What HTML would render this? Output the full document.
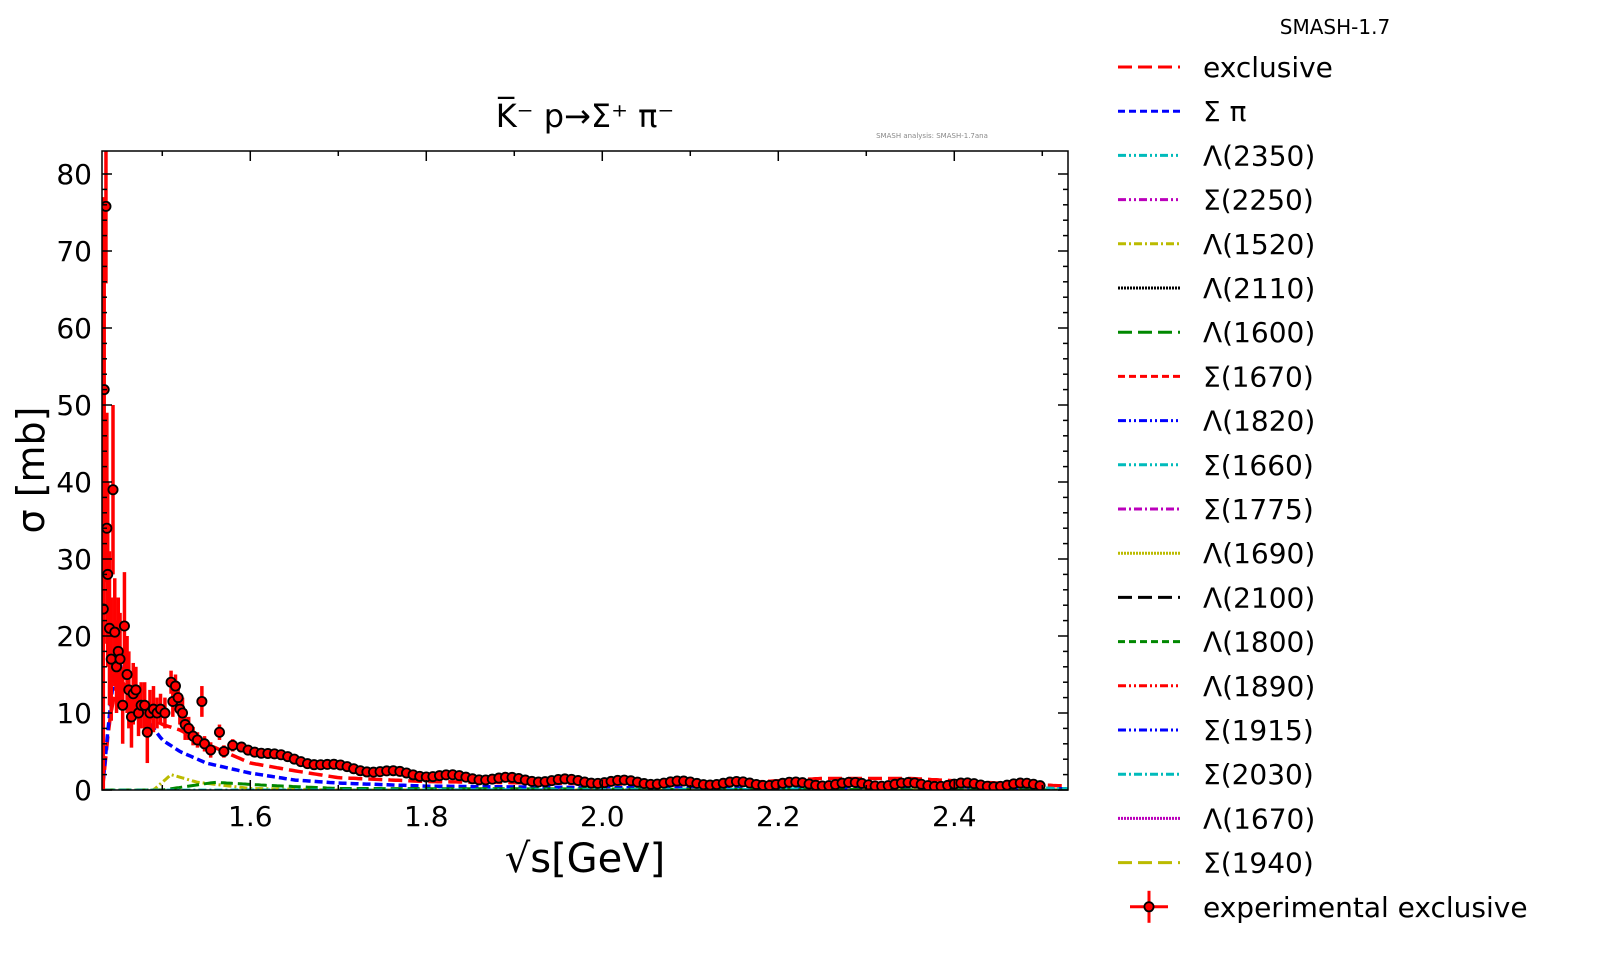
<!DOCTYPE html><html><head><style>body{margin:0;background:#fff}svg{display:block}text{font-family:"DejaVu Sans","Liberation Sans",sans-serif}</style></head><body>
<svg id="s" width="1600" height="961" xmlns="http://www.w3.org/2000/svg">
<defs><clipPath id="c"><rect x="102" y="151" width="966" height="639"/></clipPath></defs>
<rect width="1600" height="961" fill="#fff"/>
<g id="plot" clip-path="url(#c)"></g>
<rect x="102" y="151" width="966" height="639" fill="none" stroke="#000" stroke-width="1.5"/>
<g id="ticks" stroke="#000" stroke-width="1.5"></g>
<g font-size="28" fill="#000" id="lab"></g>
<text x="585" y="127" font-size="32" text-anchor="middle">K̅⁻ p→Σ⁺ π⁻</text>
<text x="932" y="138" font-size="7" fill="#888" text-anchor="middle">SMASH analysis: SMASH-1.7ana</text>
<text x="44" y="470" font-size="38" text-anchor="middle" transform="rotate(-90 44 470)">σ [mb]</text>
<text x="585" y="872" font-size="40" text-anchor="middle">√s[GeV]</text>
<text x="1335" y="34" font-size="20" text-anchor="middle">SMASH-1.7</text>
<g id="leg" font-size="28"></g>
</svg>
<script>
const NS="http://www.w3.org/2000/svg";
function el(p,t,a){const e=document.createElementNS(NS,t);for(const k in a)e.setAttribute(k,a[k]);p.appendChild(e);return e;}
const X=v=>102+(v-1.4315)*880, Y=v=>790-v*7.7;
const plot=document.getElementById('plot'),ticks=document.getElementById('ticks'),lab=document.getElementById('lab');
for(let v=0;v<=80;v+=2){const y=Y(v),L=v%10==0?10:5;el(ticks,'line',{x1:102,y1:y,x2:102+L,y2:y});el(ticks,'line',{x1:1068,y1:y,x2:1068-L,y2:y});}
for(let v=0;v<=80;v+=10){const t=el(lab,'text',{x:92,y:Y(v)+10,'text-anchor':'end'});t.textContent=v;}
for(let i=15;i<=25;i++){const v=i/10;const x=X(v);const L=i%2==0?10:5;el(ticks,'line',{x1:x,y1:790,x2:x,y2:790-L});el(ticks,'line',{x1:x,y1:151,x2:x,y2:151+L});}
for(const v of [1.6,1.8,2.0,2.2,2.4]){const t=el(lab,'text',{x:X(v),y:826,'text-anchor':'middle'});t.textContent=v.toFixed(1);}
function interp(pts,x){for(let i=0;i<pts.length-1;i++){if(x>=pts[i][0]&&x<=pts[i+1][0]){const f=(x-pts[i][0])/(pts[i+1][0]-pts[i][0]);return pts[i][1]+f*(pts[i+1][1]-pts[i][1]);}}return pts[pts.length-1][1];}
function curve(pts,col,dash,w){let d='';for(let x=1.432;x<=2.53;x+=0.003){d+=(d?'L':'M')+X(x).toFixed(1)+','+Y(interp(pts,x)).toFixed(1);}el(plot,'path',{d,fill:'none',stroke:col,'stroke-width':w||3,'stroke-dasharray':dash});}
curve([[1.432,0],[1.44,9],[1.45,15],[1.46,13],[1.48,10],[1.5,8.5],[1.52,7.8],[1.54,6.5],[1.57,5],[1.6,3.5],[1.65,2.5],[1.7,1.6],[1.8,1.1],[2.0,0.8],[2.1,0.6],[2.2,1.2],[2.25,1.5],[2.35,1.5],[2.45,0.9],[2.53,0.5]],'#f00','14,6',3.5);
curve([[1.432,0],[1.44,10],[1.448,17.5],[1.46,14],[1.48,9.5],[1.5,6.5],[1.52,5],[1.55,3.5],[1.6,2.2],[1.65,1.3],[1.7,0.9],[1.8,0.5],[2.0,0.3],[2.53,0.15]],'#00f','8,4',3.5);
curve([[1.432,0],[1.49,0],[1.51,2],[1.54,1],[1.6,0.2],[1.7,0],[2.53,0]],'#bb0','8,3,2,3',3);
curve([[1.432,0],[1.5,0],[1.56,1],[1.62,0.6],[1.7,0.2],[2.53,0]],'#080','12,5',3);
curve([[1.432,0],[2.2,0.1],[2.35,0.8],[2.5,0.3],[2.53,0.2]],'#0bb','8,3,2,3',2.5);
const pts=[[1.433,23.5,45],[1.434,52,25],[1.436,75.8,10],[1.437,34,15],[1.438,28,12],[1.44,21,10],[1.442,17,8],[1.444,39,11],[1.446,20.5,7],[1.448,16,6],[1.45,18,7],[1.452,17,6],[1.455,11,5],[1.457,21.3,7],[1.46,15,5],[1.462,13,5],[1.465,9.5,4],[1.467,12.5,4],[1.47,13,3],[1.473,10,3],[1.476,11,3],[1.48,11,3],[1.483,7.5,4],[1.486,10,3],[1.49,10.5,3],[1.494,10,2],[1.498,10.5,2],[1.503,10,2],[1.51,14,1.5],[1.512,11.5,2],[1.515,13.5,1.5],[1.518,12,2],[1.52,10.5,2],[1.523,10,2],[1.526,8.5,2],[1.53,8,1.5],[1.535,7,1.2],[1.54,6.5,1],[1.545,11.5,2],[1.548,6,1],[1.555,5.2,1],[1.565,7.5,1],[1.57,5,0.8],[1.58,5.8,0.8]];
for(let x=1.59;x<=2.5;x+=0.0075){let v=0.45+4.3*Math.exp(-(x-1.59)/0.13)+0.9*Math.exp(-(x-1.59)/0.6)+(Math.sin(x*97)*0.25);pts.push([x,v,0.3]);}
for(const p of pts){const x=X(p[0]);el(plot,'line',{x1:x,y1:Y(p[1]-p[2]),x2:x,y2:Y(p[1]+p[2]),stroke:'#f00','stroke-width':3.5});}
for(const p of pts){el(plot,'circle',{cx:X(p[0]),cy:Y(p[1]),r:4.6,fill:'#f00',stroke:'#000','stroke-width':1.8});}
const leg=document.getElementById('leg');
const L=[['exclusive','#f00','14,6'],['Σ π','#00f','7,4'],['Λ(2350)','#0bb','8,3,2,3,2,3'],['Σ(2250)','#b0b','8,3,2,3,2,3'],['Λ(1520)','#bb0','8,3,2,3'],['Λ(2110)','#000','2,1'],['Λ(1600)','#080','14,6'],['Σ(1670)','#f00','7,4'],['Λ(1820)','#00f','8,3,2,3,2,3'],['Σ(1660)','#0bb','8,3,2,3,2,3'],['Σ(1775)','#b0b','8,3,2,3'],['Λ(1690)','#bb0','2,1'],['Λ(2100)','#000','14,6'],['Λ(1800)','#080','7,4'],['Λ(1890)','#f00','8,3,2,3,2,3'],['Σ(1915)','#00f','8,3,2,3,2,3'],['Σ(2030)','#0bb','8,3,2,3'],['Λ(1670)','#b0b','2,1'],['Σ(1940)','#bb0','14,6']];
L.forEach((l,i)=>{const y=67+i*44.2;el(leg,'line',{x1:1118,y1:y,x2:1180,y2:y,stroke:l[1],'stroke-width':3,'stroke-dasharray':l[2]});const t=el(leg,'text',{x:1203,y:y+10});t.textContent=l[0];});
const yE=67+19*44.2;el(leg,'line',{x1:1130,y1:yE,x2:1168,y2:yE,stroke:'#f00','stroke-width':3});el(leg,'line',{x1:1149,y1:yE-16,x2:1149,y2:yE+16,stroke:'#f00','stroke-width':3});el(leg,'circle',{cx:1149,cy:yE,r:4.6,fill:'#f00',stroke:'#000','stroke-width':1.8});
const t=el(leg,'text',{x:1203,y:yE+10});t.textContent='experimental exclusive';
</script></body></html>
